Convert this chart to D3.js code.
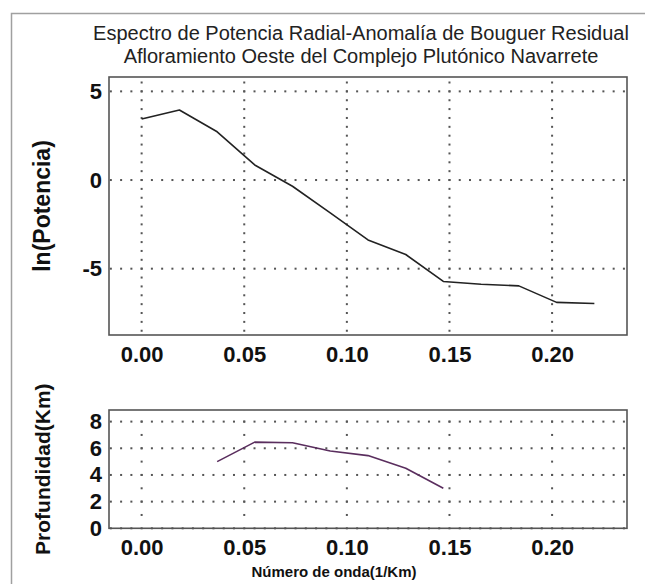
<!DOCTYPE html>
<html>
<head>
<meta charset="utf-8">
<script src="https://cdn.jsdelivr.net/npm/d3@7"></script>
<style>
  html, body { margin: 0; padding: 0; background: #fff; }
  svg { display: block; }
  text { font-family: Arial, "Liberation Sans", sans-serif; }
</style>
</head>
<body>
<svg id="chart" width="645" height="584"></svg>
<script>
// Radial power spectrum (ln power vs wave number)
const waveNumber = [0, 0.0184, 0.0368, 0.0551, 0.0735, 0.0919, 0.1103, 0.1287, 0.1470, 0.1654, 0.1838, 0.2022, 0.2206];
const lnPower = [3.44, 3.95, 2.72, 0.85, -0.35, -1.85, -3.38, -4.2, -5.72, -5.88, -5.97, -6.9, -6.96];

// Depth estimate vs wave number
const depthWave = [0.0368, 0.0551, 0.0735, 0.0919, 0.1103, 0.1287, 0.1470];
const depthKm = [5.0, 6.46, 6.41, 5.8, 5.45, 4.5, 3.0];

// Tick labels
const xTicks = [0, 0.05, 0.10, 0.15, 0.20];
const powerTicks = [5, 0, -5];
const depthTicks = [8, 6, 4, 2, 0];

const titleLines = [
  "Espectro de Potencia Radial-Anomalía de Bouguer Residual",
  "Afloramiento Oeste del Complejo Plutónico Navarrete"
];

const svg = d3.select("#chart");

// outer frame
svg.append("path")
  .attr("d", "M11.5,590 V13.5 H650")
  .attr("fill", "none").attr("stroke", "#a0a0a0").attr("stroke-width", 1.5);

// title
svg.append("g").selectAll("text").data(titleLines).join("text")
  .attr("x", 361).attr("y", (d, i) => 40 + i * 23)
  .attr("text-anchor", "middle")
  .attr("font-size", 20).attr("fill", "#222")
  .text(d => d);

const left = 109, right = 627;
const x = d3.scaleLinear().domain([-0.0159, 0.2365]).range([left, right]);

const fmtTick = d => d < 0 ? "-" + Math.abs(d) : String(d);

function panel(top, bottom, yDomain, yTicks, vDotStep, vDotStart, xs, ys, lineColor, yLabel, yLabelSize) {
  const y = d3.scaleLinear().domain(yDomain).range([bottom, top]);
  const g = svg.append("g");

  // dotted horizontal grid lines
  const hDots = d3.range(-0.015, 0.2366, 0.005);
  yTicks.forEach(t => {
    g.append("g").selectAll("rect").data(hDots).join("rect")
      .attr("x", d => x(d) - 1).attr("y", y(t) - 1)
      .attr("width", 2).attr("height", 2).attr("fill", "#555");
  });
  // dotted vertical grid lines
  const vDots = d3.range(vDotStart, yDomain[1], vDotStep);
  xTicks.forEach(t => {
    g.append("g").selectAll("rect").data(vDots).join("rect")
      .attr("x", x(t) - 1).attr("y", d => y(d) - 1)
      .attr("width", 2).attr("height", 2).attr("fill", "#555");
  });

  // data line
  const pts = xs.map((v, i) => [v, ys[i]]);
  g.append("path")
    .datum(pts)
    .attr("fill", "none")
    .attr("stroke", lineColor)
    .attr("stroke-width", 1.6)
    .attr("stroke-linejoin", "round")
    .attr("d", d3.line().x(d => x(d[0])).y(d => y(d[1])));

  // frame
  g.append("rect")
    .attr("x", left).attr("y", top)
    .attr("width", right - left).attr("height", bottom - top)
    .attr("fill", "none").attr("stroke", "#555").attr("stroke-width", 1.6);

  // axes
  const ya = g.append("g").attr("transform", `translate(${left},0)`)
    .call(d3.axisLeft(y).tickValues(yTicks).tickSize(0).tickPadding(7).tickFormat(fmtTick));
  ya.select(".domain").remove();
  ya.selectAll("text").attr("font-size", 22).attr("font-weight", "bold").attr("fill", "#111")
    .attr("font-family", "Arial, 'Liberation Sans', sans-serif");

  const xa = g.append("g").attr("transform", `translate(0,${bottom})`)
    .call(d3.axisBottom(x).tickValues(xTicks).tickSize(0).tickPadding(11).tickFormat(d3.format(".2f")));
  xa.select(".domain").remove();
  xa.selectAll("text").attr("font-size", 22).attr("font-weight", "bold").attr("fill", "#111")
    .attr("font-family", "Arial, 'Liberation Sans', sans-serif");

  // y axis title
  svg.append("text")
    .attr("transform", `translate(50,${(top + bottom) / 2}) rotate(-90)`)
    .attr("text-anchor", "middle")
    .attr("font-size", yLabelSize).attr("font-weight", "bold").attr("fill", "#111")
    .text(yLabel);
  return y;
}

panel(77, 335, [-8.74, 5.81], powerTicks, 0.5, -8.5, waveNumber, lnPower, "#222", "ln(Potencia)", 23);
panel(410, 528.3, [0, 8.87], depthTicks, 1, 1, depthWave, depthKm, "#5a2e5e", "Profundidad(Km)", 21);

// x axis title
svg.append("text")
  .attr("x", 334).attr("y", 577)
  .attr("text-anchor", "middle")
  .attr("font-size", 15).attr("font-weight", "bold").attr("fill", "#111")
  .text("Número de onda(1/Km)");
</script>
</body>
</html>
